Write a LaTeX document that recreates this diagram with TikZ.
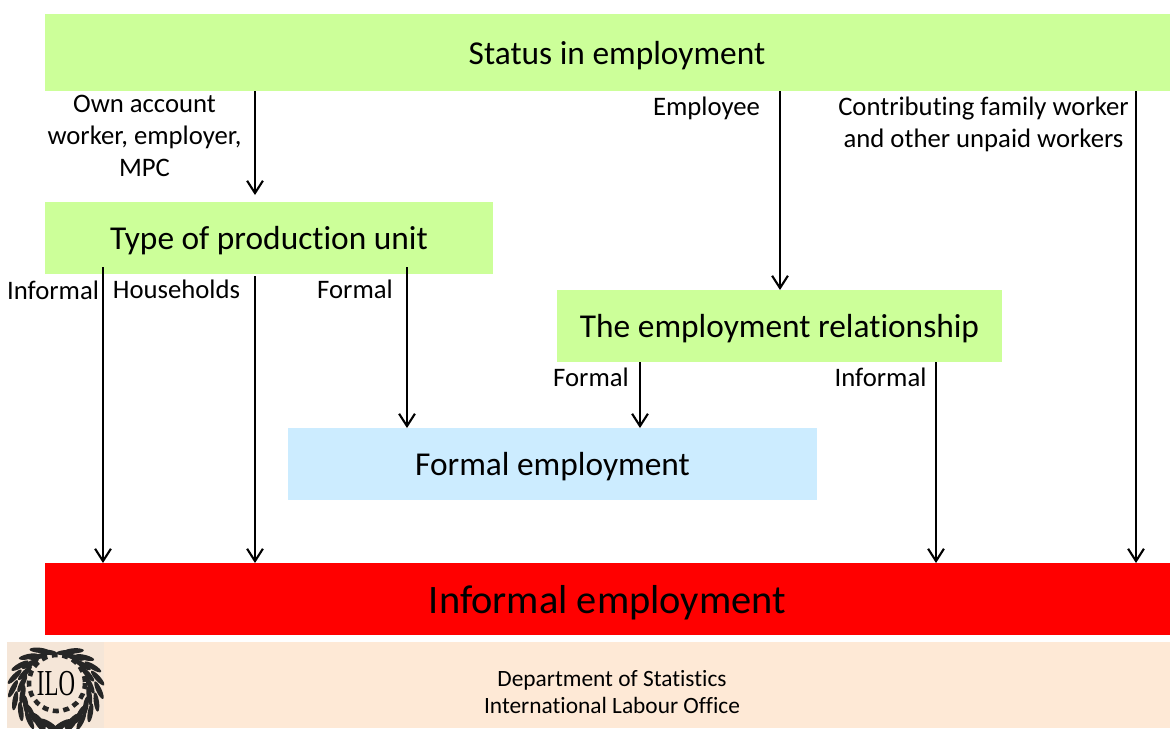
\documentclass[tikz,border=0pt]{standalone}
\usepackage{fontspec}
\setmainfont[Ligatures=NoCommon]{Carlito}
\newfontfamily\logofont{Liberation Serif}
\usepackage{graphicx}
\usepackage{tikz}
\usetikzlibrary{arrows.meta,calc,shapes.geometric}

\definecolor{boxgreen}{HTML}{CCFF99}
\definecolor{boxblue}{HTML}{CCECFF}
\definecolor{boxred}{HTML}{FF0000}
\definecolor{footbg}{HTML}{FEE9D6}
\definecolor{logobg}{HTML}{F5E6D8}

\begin{document}
\begin{tikzpicture}[x=0.02cm,y=-0.02cm]
\tikzset{edge/.style = {-{Straight Barb[length=7pt,width=9pt]},line width=1.2pt}}
\tikzset{box/.style = {shape=rectangle,inner sep=0pt,text height=17.2pt,text depth=3.6pt,font=\fontsize{19}{22}\selectfont}}
\tikzset{lab/.style = {inner sep=0pt,align=center,font=\fontsize{15.2}{18.4}\selectfont}}
\tikzset{foot/.style = {inner sep=0pt,align=center,font=\fontsize{13.3}{15.4}\selectfont}}
\tikzset{leaf/.style = {fill=black!85,shape=ellipse,inner sep=0pt,minimum width=11pt,minimum height=3pt}}

\useasboundingbox (0,0) rectangle (1170,728);

\node[box,fill=boxgreen,minimum width=22.5cm,minimum height=1.54cm] (status) at (607.5,52.5) {\hspace*{0.38cm}Status in employment};
\node[box,fill=boxgreen,minimum width=8.96cm,minimum height=1.44cm] (unit) at (269,238) {Type of production unit};
\node[box,fill=boxgreen,minimum width=8.9cm,minimum height=1.44cm] (relation) at (779.5,326) {The employment relationship};
\node[box,fill=boxblue,minimum width=10.58cm,minimum height=1.44cm] (formal) at (552.5,464) {Formal employment};
\node[box,fill=boxred,minimum width=22.5cm,minimum height=1.44cm,text height=20pt,text depth=4pt,font=\fontsize{23}{24}\selectfont] (informal) at (607.5,599) {Informal employment};
\node[fill=footbg,inner sep=0pt,minimum width=23.26cm,minimum height=1.72cm] (footer) at (588.5,685) {};
\node[foot] (dept) at (612,692.5) {Department of Statistics\\International Labour Office};

% logo
\node[fill=logobg,inner sep=0pt,minimum width=1.94cm,minimum height=1.72cm] (logo) at (55.5,685) {};
\begin{scope}
\clip (7,642) rectangle (104,728);
\foreach \a in {105,122,...,260} {
\node[leaf,rotate=\a+70] at ($(56,688)+(\a:34 and -37)$) {};
\node[leaf,rotate=\a+70] at ($(56,688)+(\a+8:43 and -41)$) {};
}
\foreach \a in {-80,-63,...,75} {
\node[leaf,rotate=\a-70] at ($(56,688)+(\a:34 and -37)$) {};
\node[leaf,rotate=\a-70] at ($(56,688)+(\a-8:43 and -41)$) {};
}
\end{scope}
\draw[line width=2.6pt,dash pattern=on 3.4pt off 2.6pt,black!85] (57,683) circle (28);
\node[fill=logobg,inner sep=1pt,font=\fontsize{13}{13}\selectfont\logofont] (ilo) at (56,684) {\scalebox{1}[1.6]{ILO}};

\coordinate (ownT) at (255,91);
\coordinate (ownB) at (255,195);
\coordinate (empT) at (780,91);
\coordinate (empB) at (780,290);
\coordinate (famT) at (1136,91);
\coordinate (famB) at (1136,563);
\coordinate (infT) at (103,267);
\coordinate (infB) at (103,563);
\coordinate (houT) at (255,276);
\coordinate (houB) at (255,563);
\coordinate (forT) at (407,267);
\coordinate (forB) at (407,428);
\coordinate (relT) at (640,362);
\coordinate (relB) at (640,428);
\coordinate (rinT) at (936,362);
\coordinate (rinB) at (936,563);

\draw [edge] (ownT) -- (ownB);
\draw [edge] (empT) -- (empB);
\draw [edge] (famT) -- (famB);
\draw [edge] (infT) -- (infB);
\draw [edge] (houT) -- (houB);
\draw [edge] (forT) -- (forB);
\draw [edge] (relT) -- (relB);
\draw [edge] (rinT) -- (rinB);

\node[lab] (own) at (144.5,136) {Own account\\worker, employer,\\MPC};
\node[lab] (employee) at (706.5,108) {Employee};
\node[lab] (family) at (983.5,124.5) {Contributing family worker\\and other unpaid workers};
\node[lab] (linf) at (53,290.5) {Informal};
\node[lab] (lhou) at (176.5,289.5) {Households};
\node[lab] (lfor) at (355,289.5) {Formal};
\node[lab] (lrfor) at (591,377.5) {Formal};
\node[lab] (lrinf) at (880.5,377.5) {Informal};
\end{tikzpicture}
\end{document}
